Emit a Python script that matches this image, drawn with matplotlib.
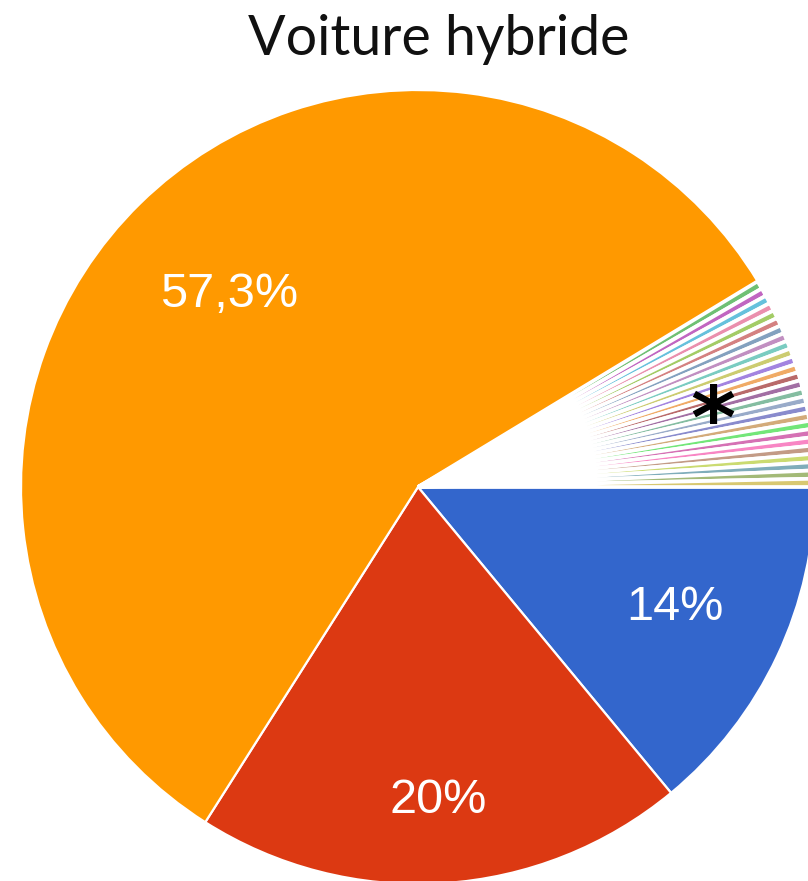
import numpy as np
import matplotlib.pyplot as plt
from matplotlib.colors import to_rgb

# Data (answers out of 300)
title = "Voiture hybride"
main_counts = [42, 60, 172]
main_labels = ["14%", "20%", "57,3%"]
main_colors = ["#3366cc", "#dc3912", "#ff9900"]

# many single answers, one slice each
other_counts = [1, 1, 1, 1, 1, 1, 1, 1, 1, 1, 1, 1, 1,
                1, 1, 1, 1, 1, 1, 1, 1, 1, 1, 1, 1, 1]
other_colors = ["#109618", "#990099", "#0099c6", "#dd4477", "#66aa00",
                "#b82e2e", "#316395", "#994499", "#22aa99", "#aaaa11",
                "#6633cc", "#e67300", "#8b0707", "#651067", "#329262",
                "#5574a6", "#3b3eac", "#b77322", "#16d620", "#b91383",
                "#f4359e", "#9c5935", "#a9c413", "#2a778d", "#668d1c",
                "#bea413"]
other_label = "*"

W, H = 808, 881
center = (418, H - 487)
radius = 397
label_r = [0.715, 0.79, 0.68]

fig = plt.figure(figsize=(W / 100, H / 100), dpi=100)
ax = fig.add_axes([0, 0, 1, 1])

counts = main_counts + other_counts
colors = main_colors + other_colors
wedges, _ = ax.pie(counts, colors=colors, startangle=0, counterclock=False,
                   center=center, radius=radius,
                   wedgeprops=dict(edgecolor="white", linewidth=1.6))

# thin slices: pale fill, thick white borders
for w, c in zip(wedges[3:], other_colors):
    w.set_facecolor(to_rgb(c) + (0.6,))
    w.set_linewidth(2.7)

for w, lab, rf in zip(wedges[:3], main_labels, label_r):
    th = np.deg2rad((w.theta1 + w.theta2) / 2)
    ax.text(center[0] + rf * radius * np.cos(th), center[1] + rf * radius * np.sin(th),
            lab, color="white", fontsize=35, ha="center", va="center",
            family="Liberation Sans")

t_lo = min(w.theta1 for w in wedges[3:])
t_hi = max(w.theta2 for w in wedges[3:])
th = np.deg2rad((t_lo + t_hi) / 2)
ax.annotate(other_label,
            (center[0] + 0.77 * radius * np.cos(th), center[1] + 0.77 * radius * np.sin(th)),
            xytext=(0, -14), textcoords="offset points",
            color="black", fontsize=62, fontweight="bold",
            ha="center", va="center", family="DejaVu Sans")

ax.text(439, H - 55, title, fontsize=40, color="#111111", ha="center",
        va="baseline", family="Lato")

ax.set_xlim(0, W)
ax.set_ylim(0, H)
ax.set_aspect("equal")
ax.axis("off")

fig.savefig("out.png", dpi=100)
